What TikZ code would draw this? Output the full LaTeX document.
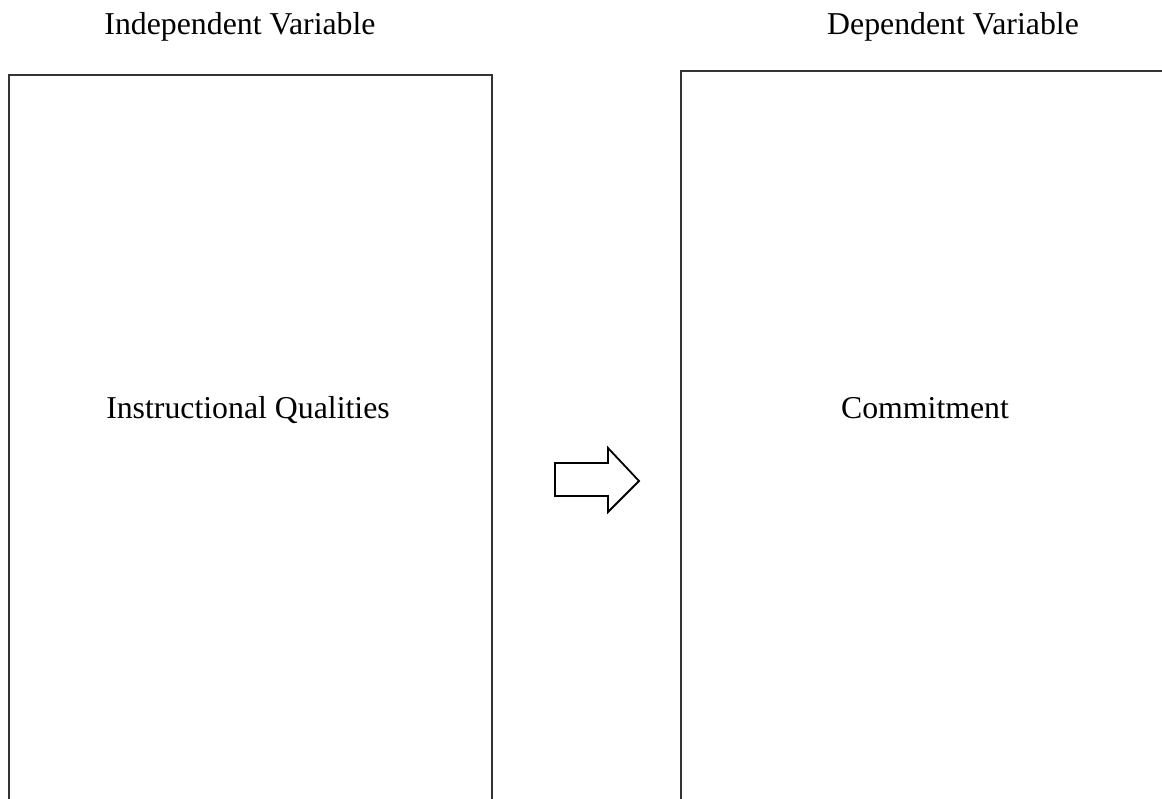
\documentclass[tikz,border=0pt]{standalone}
\usepackage{fontspec}
\setmainfont{Liberation Serif}
\begin{document}
\begin{tikzpicture}[x=1pt,y=-1pt,
  box/.style={draw=black!80,line width=1.3pt},
  lbl/.style={font=\fontsize{31.8}{38}\selectfont,anchor=base,inner sep=0pt},
  blockarrow/.style={draw=black,line width=1.8pt,line join=miter,fill=white}]
\useasboundingbox (0,0) rectangle (1162,799);
\clip (0,0) rectangle (1162,799);
\draw[box] (9,830) -- (9,75) -- (492,75) -- (492,830);
\draw[box] (681,830) -- (681,71) -- (1180,71);
\node[lbl] (iv) at (240,35) {Independent Variable};
\node[lbl] (dv) at (953,35) {Dependent Variable};
\node[lbl] (iq) at (248,419) {Instructional Qualities};
\node[lbl] (cm) at (925,418) {Commitment};
\draw[blockarrow] (555,463) -- (608,463) -- (608,448) -- (639,481) -- (608,512) -- (608,496) -- (555,496) -- cycle;
\end{tikzpicture}
\end{document}
